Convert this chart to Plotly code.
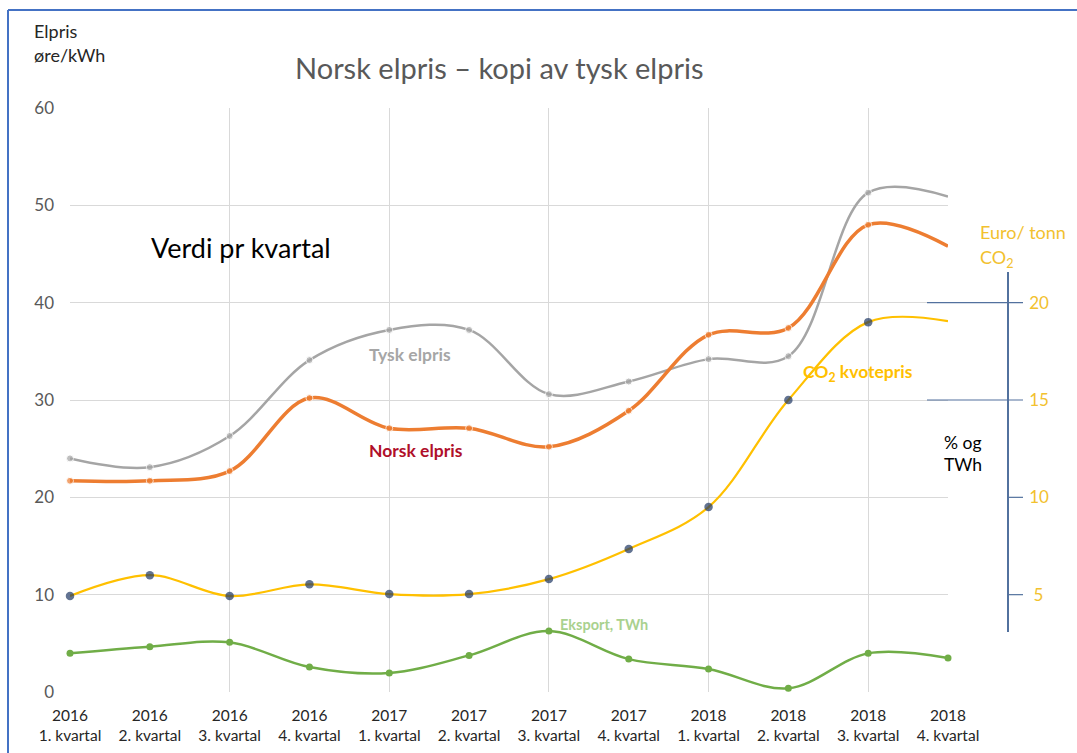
import plotly.graph_objects as go

# ---------------- data ----------------
years = ["2016", "2016", "2016", "2016", "2017", "2017", "2017", "2017", "2018", "2018", "2018", "2018"]
quarters = ["1. kvartal", "2. kvartal", "3. kvartal", "4. kvartal"] * 3
tysk_elpris = [24.0, 23.1, 26.3, 34.1, 37.2, 37.2, 30.6, 31.9, 34.2, 34.5, 51.3, 50.9]
norsk_elpris = [21.7, 21.7, 22.7, 30.2, 27.1, 27.1, 25.2, 28.9, 36.7, 37.4, 48.0, 45.8]
co2_kvotepris = [4.93, 6.0, 4.93, 5.53, 5.03, 5.03, 5.8, 7.35, 9.5, 15.0, 19.0, 19.05]  # Euro/tonn
eksport_twh = [3.97, 4.65, 5.1, 2.56, 1.95, 3.76, 6.26, 3.38, 2.36, 0.38, 3.97, 3.49]
left_ticks = [0, 10, 20, 30, 40, 50, 60]
right_ticks = [5, 10, 15, 20]
right_tick_text = ["\u00a05", "10", "15", "20"]

tick_text = [f"{y}<br>{q}" for y, q in zip(years, quarters)]
xi = list(range(len(years)))

# ---------------- layout geometry ----------------
W, H = 1077, 753
L, R, T, B = 70, 17, 108, 61
PW, PH = W - L - R, H - T - B


def px_x(px):
    return (px - L) / PW


def px_y(py):
    return (H - B - py) / PH


FONT = "Lato"
x_dom = [0, px_x(948)]
AXIS_BLUE = "#52719E"

# right (Euro/tonn) axis: 0..30 over the same height as the left 0..60 axis
Y2_MAX = 30
y3_dom = [px_y(632), px_y(272)]
y3_range = [y3_dom[0] * Y2_MAX, y3_dom[1] * Y2_MAX]

fig = go.Figure()

marker_sizes = [7] * (len(xi) - 1) + [0]

fig.add_trace(go.Scatter(
    x=xi, y=tysk_elpris, mode="lines+markers", line=dict(color="#A5A5A5", width=2.5, shape="spline", smoothing=1),
    marker=dict(color="#A5A5A5", size=marker_sizes), cliponaxis=False, showlegend=False, name="Tysk elpris"))
fig.add_trace(go.Scatter(
    x=xi, y=norsk_elpris, mode="lines+markers", line=dict(color="#ED7D31", width=3.5, shape="spline", smoothing=1),
    marker=dict(color="#ED7D31", size=marker_sizes), cliponaxis=False, showlegend=False, name="Norsk elpris"))
fig.add_trace(go.Scatter(
    x=xi, y=co2_kvotepris, yaxis="y2", mode="lines+markers",
    line=dict(color="#FFC000", width=2.2, shape="spline", smoothing=1),
    marker=dict(color="#1F3864", size=[8.5] * (len(xi) - 1) + [0], line=dict(width=0)),
    cliponaxis=False, showlegend=False, name="CO2 kvotepris"))
fig.add_trace(go.Scatter(
    x=xi, y=eksport_twh, mode="lines+markers", line=dict(color="#70AD47", width=2.5, shape="spline", smoothing=1),
    marker=dict(color="#70AD47", size=7), cliponaxis=False, showlegend=False, name="Eksport, TWh"))
# helper traces so the grid overlay axis and the decorative right axis render
fig.add_trace(go.Scatter(x=[], y=[], xaxis="x2", showlegend=False, hoverinfo="skip"))
fig.add_trace(go.Scatter(x=[], y=[], yaxis="y3", showlegend=False, hoverinfo="skip"))

fig.update_layout(
    width=W, height=H,
    margin=dict(l=L, r=R, t=T, b=B, autoexpand=False),
    paper_bgcolor="white", plot_bgcolor="rgba(0,0,0,0)",
    font=dict(family=FONT, color="#262626"),
    xaxis=dict(domain=x_dom, range=[0, len(xi) - 1], tickmode="array", tickvals=xi, ticktext=tick_text,
               showgrid=False, zeroline=False, showline=False, ticks="", automargin=False,
               tickfont=dict(size=15.5, color="#262626", family=FONT), ticklabelstandoff=12),
    xaxis2=dict(domain=x_dom, overlaying="x", anchor="y", range=[0, len(xi) - 1], automargin=False,
                tickmode="array", tickvals=xi[::2], showticklabels=False, ticks="",
                showgrid=True, gridcolor="#D9D9D9", gridwidth=1, zeroline=False),
    yaxis=dict(range=[0, 60], tickmode="array", tickvals=left_ticks, showgrid=True, gridcolor="#D9D9D9",
               gridwidth=1, zeroline=False, showline=False, ticks="", automargin=False,
               tickfont=dict(size=17, color="#595959", family=FONT), ticklabelstandoff=15),
    yaxis2=dict(range=[0, Y2_MAX], overlaying="y", visible=False, automargin=False),
    yaxis3=dict(anchor="free", position=px_x(1008), domain=y3_dom,
                range=y3_range, side="right", automargin=False,
                tickmode="array", tickvals=right_ticks, ticktext=right_tick_text,
                showgrid=False, zeroline=False, showline=True, linecolor=AXIS_BLUE, linewidth=1.5,
                ticks="", tickfont=dict(size=17, color="#F2C12E", family=FONT), ticklabelstandoff=17),
)

# tick marks of the right axis: long ones at 15 and 20, short ones at 5 and 10
for v in right_ticks:
    x0 = px_x(927) if v >= 15 else px_x(1007)
    yp = v / Y2_MAX
    fig.add_shape(type="line", xref="paper", yref="paper", x0=x0, x1=px_x(1023), y0=yp, y1=yp,
                  line=dict(color=AXIS_BLUE, width=1.2))

# blue frame (left and top edges)
fig.add_shape(type="line", xref="paper", yref="paper", x0=px_x(8), x1=px_x(8), y0=px_y(H + 5), y1=px_y(10),
              line=dict(color="#4472C4", width=2))
fig.add_shape(type="line", xref="paper", yref="paper", x0=px_x(8), x1=px_x(W + 5), y0=px_y(10), y1=px_y(10),
              line=dict(color="#4472C4", width=2))


def note(text, x, y, size, color, xanchor="left", bold=False):
    fig.add_annotation(text=f"<b>{text}</b>" if bold else text, xref="paper", yref="paper",
                       x=px_x(x), y=px_y(y), xanchor=xanchor, yanchor="middle", showarrow=False,
                       font=dict(family=FONT, size=size, color=color), align="left", borderpad=0)


note("Norsk elpris \u2013 kopi av tysk elpris", 499, 67, 29, "#595959", xanchor="center")
note("Elpris", 33, 31, 18, "#262626")
note("øre/kWh", 33, 55, 18, "#262626")
note("Verdi pr kvartal", 150, 247, 27, "#000000")
note("Tysk elpris", 410, 354, 17.5, "#A6A6A6", xanchor="center", bold=True)
note("Norsk elpris", 416, 450, 17.5, "#B0102A", xanchor="center", bold=True)
note("Eksport, TWh", 604, 624, 14.5, "#A9D18E", xanchor="center", bold=True)
note("CO<sub>2</sub> kvotepris", 858, 373, 17.5, "#FFC000", xanchor="center", bold=True)
note("Euro/ tonn", 979, 232, 18, "#F2C12E")
note("CO<sub>2</sub>", 979, 258, 18, "#F2C12E")
note("% og", 943, 442, 17.5, "#000000")
note("TWh", 943, 464, 17.5, "#000000")

fig.write_html("out.html")
